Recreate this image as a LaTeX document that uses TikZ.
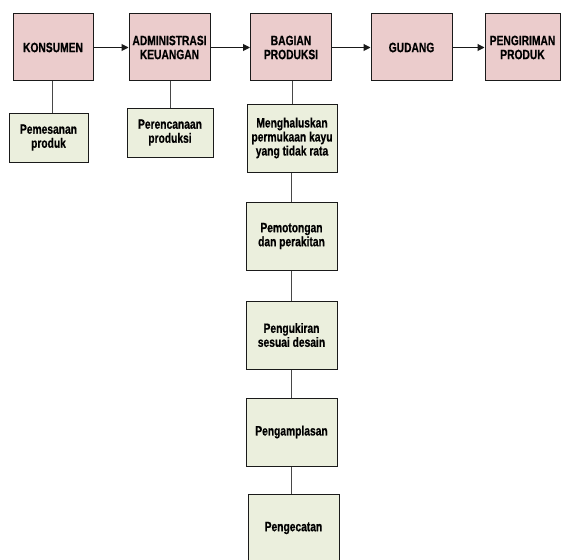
\documentclass[tikz,border=0pt]{standalone}
\usepackage{fontspec}
\setmainfont{Liberation Sans}[FakeStretch=0.76, BoldFeatures={FakeBold=0.6}]
\usetikzlibrary{arrows.meta}
\definecolor{unitfill}{HTML}{EBCCCC}
\definecolor{taskfill}{HTML}{EBEFDD}
\definecolor{edge}{HTML}{1A1A1A}
\tikzset{
  unit/.style={draw=edge, line width=1pt, fill=unitfill, minimum height=67pt,
    inner sep=1pt, align=center, font=\fontsize{13.5}{14}\selectfont\bfseries},
  task/.style={draw=edge, line width=1pt, fill=taskfill, minimum height=49pt,
    inner sep=1pt, align=center, font=\fontsize{13.5}{14}\selectfont\bfseries},
  flow/.style={draw=edge, line width=1pt, -{Triangle[length=7pt,width=7pt]}},
  link/.style={draw=edge!80, line width=0.8pt}
}
\begin{document}
\begin{tikzpicture}[x=1pt,y=-1pt]
\useasboundingbox (0,0) rectangle (561,559);
\clip (0,0) rectangle (561,559);
% main departments
\node[unit, minimum width=80pt] (kons) at (53,47.5) {KONSUMEN};
\node[unit, minimum width=81pt] (adm) at (169.5,47.5) {ADMINISTRASI\\KEUANGAN};
\node[unit, minimum width=81pt] (prod) at (291,47.5) {BAGIAN\\PRODUKSI};
\node[unit, minimum width=81pt] (gud) at (411.5,47.5) {GUDANG};
\node[unit, minimum width=75pt] (kirim) at (522.5,47.5) {PENGIRIMAN\\PRODUK};
% activities
\node[task, minimum width=79pt] (pesan) at (48.5,137.5) {Pemesanan\\produk};
\node[task, minimum width=86pt] (rencana) at (170,132.5) {Perencanaan\\produksi};
\node[task, minimum width=90pt, minimum height=68pt] (halus) at (292,138) {Menghaluskan\\permukaan kayu\\yang tidak rata};
\node[task, minimum width=91pt, minimum height=68pt] (potong) at (291.5,236) {Pemotongan\\dan perakitan};
\node[task, minimum width=91pt, minimum height=68pt] (ukir) at (291.5,335) {Pengukiran\\sesuai desain};
\node[task, minimum width=91pt, minimum height=68pt] (amplas) at (291.5,432) {Pengamplasan};
\node[task, minimum width=91pt, minimum height=68pt] (cat) at (293.5,528) {Pengecatan};
% flow between departments
\draw[flow] (kons) -- (adm);
\draw[flow] (adm) -- (prod);
\draw[flow] (prod) -- (gud);
\draw[flow] (gud) -- (kirim);
% links to activities
\draw[link] (kons.south -| 52,0) -- (pesan.north -| 52,0);
\draw[link] (adm.south -| 170,0) -- (rencana.north -| 170,0);
\draw[link] (prod.south -| 292,0) -- (halus.north -| 292,0);
\draw[link] (halus.south -| 291,0) -- (potong.north -| 291,0);
\draw[link] (potong.south -| 291,0) -- (ukir.north -| 291,0);
\draw[link] (ukir.south -| 291,0) -- (amplas.north -| 291,0);
\draw[link] (amplas.south -| 291,0) -- (cat.north -| 291,0);
\end{tikzpicture}
\end{document}
